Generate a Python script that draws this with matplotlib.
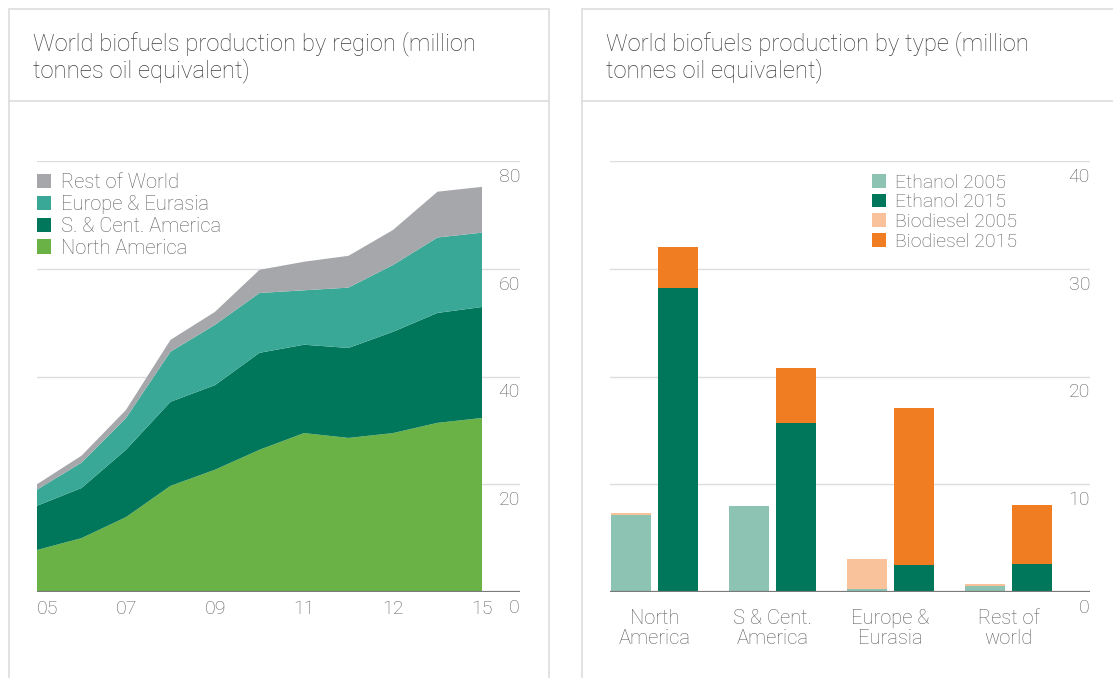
import matplotlib.pyplot as plt
from matplotlib.patches import Rectangle
from matplotlib.lines import Line2D

plt.rcParams['font.family'] = ['Roboto', 'DejaVu Sans']
plt.rcParams['font.weight'] = 'light'

W, H = 1113, 678

# production by region, million tonnes oil equivalent
years = [2005, 2006, 2007, 2008, 2009, 2010, 2011, 2012, 2013, 2014, 2015]
north_america = [7.8, 10.0, 13.9, 19.7, 22.7, 26.4, 29.5, 28.6, 29.5, 31.4, 32.3]
s_cent_america = [8.2, 9.3, 12.5, 15.6, 15.7, 18.0, 16.4, 16.7, 18.8, 20.4, 20.6]
europe_eurasia = [3.0, 4.7, 5.9, 9.3, 11.2, 11.1, 10.1, 11.2, 12.4, 14.0, 13.8]
rest_of_world = [1.0, 1.3, 1.5, 2.2, 2.4, 4.3, 5.3, 5.9, 6.5, 8.5, 8.5]
year_ticks = [2005, 2007, 2009, 2011, 2013, 2015]
year_labels = ['05', '07', '09', '11', '12', '15']
region_ticks = [20, 40, 60, 80]

# production by type
regions = ['North\nAmerica', 'S & Cent.\nAmerica', 'Europe &\nEurasia', 'Rest of\nworld']
ethanol_2005 = [7.1, 8.0, 0.3, 0.6]
biodiesel_2005 = [0.25, 0.0, 2.75, 0.15]
ethanol_2015 = [28.2, 15.7, 2.5, 2.6]
biodiesel_2015 = [3.8, 5.1, 14.6, 5.45]
type_ticks = [10, 20, 30, 40]

region_colors = ['#6ab245', '#00775b', '#3aa897', '#a6a7ab']
type_colors = {'Ethanol 2005': '#8cc3b3', 'Ethanol 2015': '#00775b',
               'Biodiesel 2005': '#f9c29a', 'Biodiesel 2015': '#f07d22'}

TITLE_C = '#3e3e3e'
LABEL_C = '#5e5e5e'
GRID_C = '#dddddd'
BASE_C = '#7a7a7a'

fig = plt.figure(figsize=(W / 100, H / 100), dpi=100)


def px_axes(x0, y0, x1, y1):
    return fig.add_axes([x0 / W, 1 - y1 / H, (x1 - x0) / W, (y1 - y0) / H])


def panel(x0, x1, title):
    fig.patches.append(Rectangle((x0 / W, -0.05), (x1 - x0) / W, 1.05 - 9 / H,
                                 transform=fig.transFigure, fill=False,
                                 edgecolor=GRID_C, lw=1.2))
    fig.add_artist(Line2D([x0 / W, x1 / W], [1 - 101 / H] * 2, color=GRID_C, lw=1.2))
    fig.text((x0 + 24) / W, 1 - 31 / H, title, ha='left', va='top', fontsize=17.2,
             color=TITLE_C, linespacing=1.13)


def style(ax, ticks):
    ax.set_yticks(ticks)
    ax.grid(axis='y', color=GRID_C, lw=1)
    ax.set_axisbelow(True)
    ax.tick_params(length=0, labelleft=False, labelbottom=False)
    ax.set_xticks([])
    for s in ax.spines.values():
        s.set_visible(False)
    ax.patch.set_alpha(0)
    ax.axhline(0, color=BASE_C, lw=1.6, zorder=5)
    for v in [0] + ticks:
        ax.annotate(str(v), (1.0, v), xycoords=ax.get_yaxis_transform(),
                    xytext=(0, -5), textcoords='offset points', ha='right', va='top',
                    fontsize=14, color=LABEL_C, annotation_clip=False)


panel(9, 549, 'World biofuels production by region (million\ntonnes oil equivalent)')
panel(582, 1130, 'World biofuels production by type (million\ntonnes oil equivalent)')

# stacked area by region
ax1 = px_axes(37, 161, 520, 592)
ax1.stackplot(years, north_america, s_cent_america, europe_eurasia, rest_of_world,
              colors=region_colors, lw=0,
              labels=['North America', 'S. & Cent. America', 'Europe & Eurasia', 'Rest of World'])
ax1.set_xlim(2005, 2015 + 38 / 44.5)
ax1.set_ylim(0, 80)
style(ax1, region_ticks)
for i, (yr, lab) in enumerate(zip(year_ticks, year_labels)):
    ha = 'left' if i == 0 else 'center'
    ax1.annotate(lab, (yr, 0), xytext=(0, -6), textcoords='offset points', ha=ha, va='top',
                 fontsize=14, color=LABEL_C, annotation_clip=False)
h, l = ax1.get_legend_handles_labels()
leg1 = ax1.legend(h[::-1], l[::-1], loc='upper left', bbox_to_anchor=(0, 0.972),
                  frameon=False, fontsize=14.5, handlelength=0.7, handleheight=0.7,
                  handletextpad=0.5, labelspacing=0.14, borderpad=0, borderaxespad=0)
for t in leg1.get_texts():
    t.set_color(LABEL_C)

# grouped stacked bars by type
ax2 = px_axes(610, 161, 1090, 592)
pos = range(len(regions))
off, bw = 47 / 2 / 118, 40 / 118
x05 = [p - off for p in pos]
x15 = [p + off for p in pos]
ax2.bar(x05, ethanol_2005, bw, color=type_colors['Ethanol 2005'], label='Ethanol 2005')
ax2.bar(x15, ethanol_2015, bw, color=type_colors['Ethanol 2015'], label='Ethanol 2015')
ax2.bar(x05, biodiesel_2005, bw, bottom=ethanol_2005, color=type_colors['Biodiesel 2005'],
        label='Biodiesel 2005')
ax2.bar(x15, biodiesel_2015, bw, bottom=ethanol_2015, color=type_colors['Biodiesel 2015'],
        label='Biodiesel 2015')
ax2.set_xlim(-44.5 / 118, 3 + 81.5 / 118)
ax2.set_ylim(0, 40)
style(ax2, type_ticks)
for p, name in zip(pos, regions):
    ax2.annotate(name, (p, 0), xytext=(0, -12), textcoords='offset points', ha='center',
                 va='top', fontsize=14.5, color=LABEL_C, linespacing=1.1,
                 annotation_clip=False)
leg2 = ax2.legend(loc='upper left', bbox_to_anchor=(262 / 480, 0.97), frameon=False,
                  fontsize=14, handlelength=0.7, handleheight=0.7, handletextpad=0.5,
                  labelspacing=0.08, borderpad=0, borderaxespad=0)
for t in leg2.get_texts():
    t.set_color(LABEL_C)

fig.savefig('out.png', dpi=100)
